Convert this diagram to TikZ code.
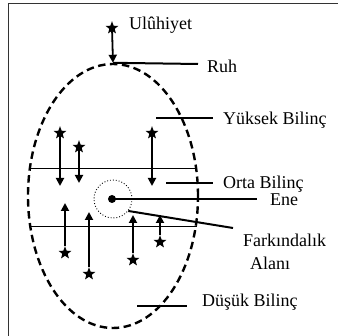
\documentclass[tikz,border=0pt]{standalone}
\usepackage{fontspec}
\setmainfont{Liberation Serif}
\usetikzlibrary{shapes.geometric,arrows.meta}
\newcommand{\lblfont}{\fontsize{18pt}{21pt}\selectfont}
\begin{document}
\begin{tikzpicture}[x=1pt,y=-1pt,
  lbl/.style={font=\lblfont, anchor=base west, inner sep=0pt},
  markline/.style={line width=2pt},
  thinline/.style={line width=1pt},
  starnode/.style={star, star points=5, star point ratio=2.4, fill=black, minimum size=13.5pt, inner sep=0pt},
  arr/.style={line width=1.8pt, -{Triangle[length=8pt,width=8pt]}},
]
\useasboundingbox (0,0) rectangle (338,336);
% frame
\draw[gray!40!black, line width=1.3pt] (8.5,336) -- (8.5,3.5) -- (338,3.5);
% oval
\node[ellipse, draw, dash pattern=on 7.5pt off 4.5pt, line width=2.4pt,
      minimum width=170pt, minimum height=264pt, inner sep=0pt] (oval) at (113,196) {};
% level lines
\draw[thinline] (oval.162) -- (oval.18);
\draw[thinline] (oval.200.6) -- (oval.-20.6);
% Uluhiyet
\node[starnode] (su) at (112,28) {};
\draw[arr] (su) -- (oval.north);
\coordinate (ruhE) at (198,64);
\draw[markline] (oval.north) -- (ruhE);
% label lines
\coordinate (yukA) at (156,118); \coordinate (yukB) at (213,118);
\draw[markline] (yukA) -- (yukB);
\coordinate (ortA) at (166,183); \coordinate (ortB) at (213,183);
\draw[markline] (ortA) -- (ortB);
\coordinate (dusA) at (137,306); \coordinate (dusB) at (187,306);
\draw[markline] (dusA) -- (dusB);
% awareness circle and Ene
\node[circle, draw, dotted, line width=0.9pt, minimum size=38pt, inner sep=0pt] (aw) at (113,199) {};
\node[circle, fill=black, minimum size=8pt, inner sep=0pt] (ene) at (112,199) {};
\coordinate (eneE) at (257,199);
\draw[markline] (ene.center) -- (eneE);
\coordinate (farE) at (233,228);
\draw[markline] (aw.-38.7) -- (farE);
% upper stars (down arrows)
\node[starnode] (s1) at (60,133) {};
\node[starnode] (s2) at (79,147) {};
\node[starnode] (s3) at (152,133) {};
\coordinate (t1) at (60,186);
\coordinate (t2) at (79,183);
\coordinate (t3) at (152,186);
\draw[arr] (s1) -- (t1);
\draw[arr] (s2) -- (t2);
\draw[arr] (s3) -- (t3);
% lower stars (up arrows)
\node[starnode] (s4) at (65,253) {};
\node[starnode] (s5) at (89,274) {};
\node[starnode] (s6) at (133,260) {};
\node[starnode] (s7) at (160,242) {};
\coordinate (t4) at (65,203);
\coordinate (t5) at (89,212);
\coordinate (t6) at (133,215);
\coordinate (t7) at (160,215);
\draw[arr] (s4) -- (t4);
\draw[arr] (s5) -- (t5);
\draw[arr] (s6) -- (t6);
\draw[arr] (s7) -- (t7);
% texts
\node[lbl] (lu) at (129,30) {Ulûhiyet};
\node[lbl] (lr) at (207,73) {Ruh};
\node[lbl] (ly) at (223,125) {Yüksek Bilinç};
\node[lbl] (lo) at (223,189) {Orta Bilinç};
\node[lbl] (le) at (270,206) {Ene};
\node[lbl] (lf) at (243,247) {Farkındalık};
\node[lbl] (la) at (250,270) {Alanı};
\node[lbl] (ld) at (202,307) {Düşük Bilinç};
\end{tikzpicture}
\end{document}
